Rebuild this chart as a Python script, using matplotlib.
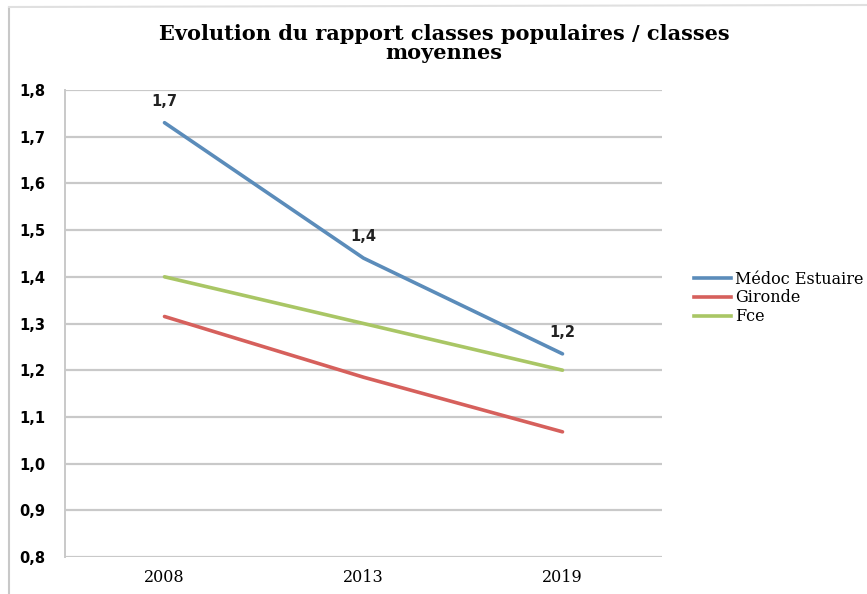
import matplotlib.pyplot as plt
from matplotlib.ticker import FuncFormatter
from matplotlib.lines import Line2D

years = ['2008', '2013', '2019']
medoc = [1.73, 1.44, 1.235]
gironde = [1.315, 1.185, 1.068]
france = [1.40, 1.30, 1.20]
series_names = ['Médoc Estuaire', 'Gironde', 'Fce']
colors = ['#5b8cba', '#d6605c', '#a9c665']

fig = plt.figure(figsize=(8.67, 5.94), dpi=100)
ax = fig.add_axes([65 / 867, 1 - 557 / 594, (662 - 65) / 867, (557 - 90) / 594])

x = list(range(len(years)))
for vals, name, c in zip([medoc, gironde, france], series_names, colors):
    ax.plot(x, vals, color=c, lw=2.6, solid_capstyle='round', label=name)

# labels only on the Médoc series
for xi, v in zip(x, medoc):
    ax.annotate(f'{v:.1f}'.replace('.', ','), (xi, v), xytext=(0, 10),
                textcoords='offset points', ha='center', va='bottom',
                fontsize=10.5, fontweight='bold', color='#222222')

ax.set_xlim(-0.5, 2.5)
ax.set_ylim(0.8, 1.8)
ax.set_yticks([0.8 + 0.1 * i for i in range(11)])
ax.yaxis.set_major_formatter(FuncFormatter(lambda v, p: f'{v:.1f}'.replace('.', ',')))
ax.set_xticks(x)
ax.set_xticklabels(years, fontfamily='DejaVu Serif', fontsize=11.5)
for lab in ax.get_yticklabels():
    lab.set_fontweight('bold')
    lab.set_fontsize(10.5)
ax.tick_params(axis='y', length=0, pad=14)
ax.tick_params(axis='x', length=0, pad=9)
ax.grid(axis='y', color='#c9c9c9', lw=1.6)
ax.set_axisbelow(True)
for s in ['top', 'right', 'bottom']:
    ax.spines[s].set_visible(False)
ax.spines['left'].set_color('#c9c9c9')
ax.spines['left'].set_linewidth(1.4)

fig.suptitle('Evolution du rapport classes populaires / classes\nmoyennes',
             x=444 / 867, y=1 - 24 / 594, fontsize=15, fontweight='bold',
             fontfamily='DejaVu Serif', linespacing=0.95, va='top')

handles = [Line2D([], [], color=c, lw=2.6) for c in colors]
fig.legend(handles, series_names, loc='center left', bbox_to_anchor=(680 / 867, 1 - 298 / 594),
           frameon=False, prop={'family': 'DejaVu Serif', 'size': 11.5},
           handlelength=2.3, handletextpad=0.25, labelspacing=0.12)

# chart frame edges
fig.add_artist(Line2D([9 / 867, 9 / 867], [0, 1 - 8 / 594], color='#c8c8c8', lw=1.5))
fig.add_artist(Line2D([9 / 867, 1], [1 - 7 / 594, 1 - 5 / 594], color='#e0e0e0', lw=1.5))

fig.savefig('out.png', dpi=100)
